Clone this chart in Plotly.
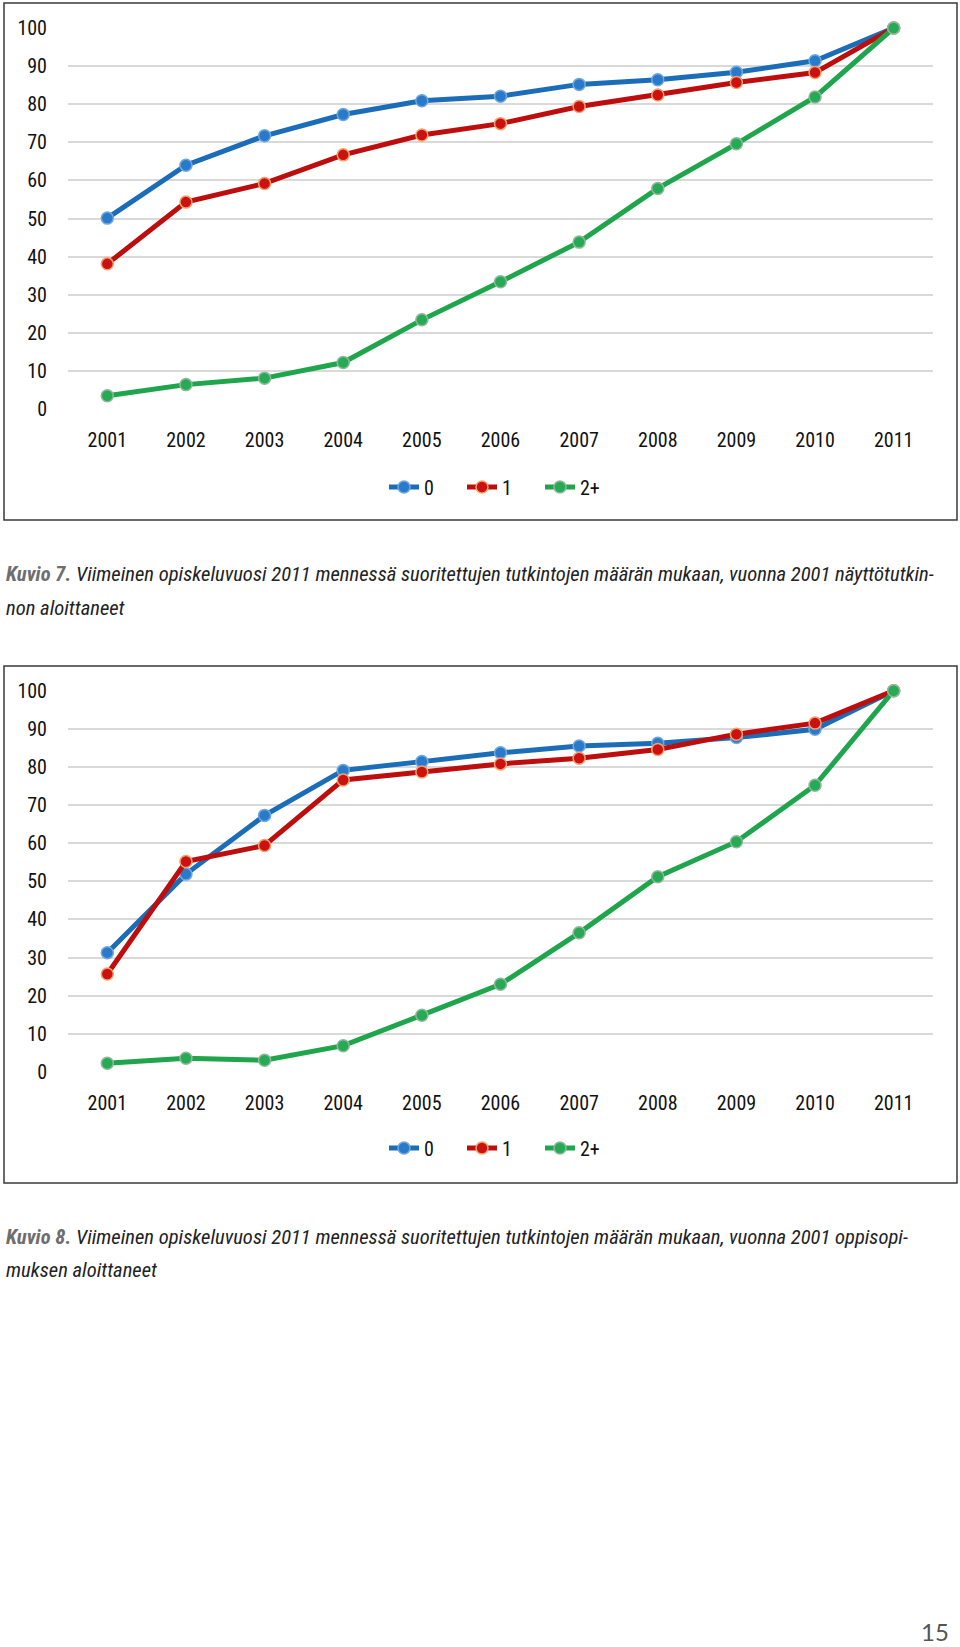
import plotly.graph_objects as go

years = ["2001", "2002", "2003", "2004", "2005", "2006", "2007", "2008", "2009", "2010", "2011"]
series_names = ["0", "1", "2+"]

# Kuvio 7 (näyttötutkinnon aloittaneet)
k7_zero = [50.1, 64.0, 71.7, 77.3, 80.9, 82.1, 85.2, 86.4, 88.4, 91.4, 100]
k7_one = [38.1, 54.3, 59.2, 66.7, 71.9, 74.9, 79.4, 82.4, 85.7, 88.3, 100]
k7_two = [3.5, 6.4, 8.1, 12.2, 23.4, 33.4, 43.8, 57.9, 69.6, 81.9, 100]

# Kuvio 8 (oppisopimuksen aloittaneet)
k8_zero = [31.3, 51.9, 67.3, 79.1, 81.4, 83.7, 85.5, 86.2, 87.7, 89.9, 100]
k8_one = [25.7, 55.2, 59.4, 76.6, 78.7, 80.8, 82.3, 84.6, 88.6, 91.5, 100]
k8_two = [2.3, 3.6, 3.1, 6.9, 14.9, 23.0, 36.5, 51.2, 60.4, 75.2, 100]

y_ticks = [0, 10, 20, 30, 40, 50, 60, 70, 80, 90, 100]

W, H = 960, 1647
FONT = "Liberation Sans Narrow, Roboto Condensed, Roboto, sans-serif"

line_colors = ["#1B6DB8", "#BE0D0D", "#1FA54C"]
marker_fill = ["#2A7ACB", "#CC1111", "#27AA55"]
marker_edge = ["#6FA8DC", "#F5A06A", "#8FB89A"]


def py(px):
    return 1 - px / H


def px_x(px):
    return px / W


fig = go.Figure()

charts = [
    dict(data=[k7_zero, k7_one, k7_two], xa="x", ya="y", legend="legend"),
    dict(data=[k8_zero, k8_one, k8_two], xa="x2", ya="y2", legend="legend2"),
]

for c in charts:
    for i, vals in enumerate(c["data"]):
        fig.add_trace(go.Scatter(
            x=years, y=vals, name=series_names[i], mode="lines+markers",
            xaxis=c["xa"], yaxis=c["ya"], legend=c["legend"],
            line=dict(color=line_colors[i], width=5),
            marker=dict(size=12, color=marker_fill[i],
                        line=dict(color=marker_edge[i], width=1.5)),
            cliponaxis=False,
        ))

TICK_SIZE = 20
axis_common_x = dict(
    type="category", range=[-0.5, 10.5], showgrid=False, showline=False,
    zeroline=False, ticks="", tickfont=dict(family=FONT, size=TICK_SIZE, color="#111"),
    ticklabelstandoff=17, fixedrange=True, automargin=False,
)
axis_common_y = dict(
    range=[0, 100], tickvals=y_ticks, showgrid=True, gridcolor="#D9D9D9",
    gridwidth=1.5, zeroline=False, showline=False, ticks="",
    tickfont=dict(family=FONT, size=TICK_SIZE, color="#111"), ticklabelstandoff=20,
    fixedrange=True, automargin=False,
)

x0, x1 = px_x(68), px_x(933)
fig.update_layout(
    xaxis=dict(domain=[x0, x1], anchor="y", **axis_common_x),
    yaxis=dict(domain=[py(409), py(28)], anchor="x", **axis_common_y),
    xaxis2=dict(domain=[x0, x1], anchor="y2", **axis_common_x),
    yaxis2=dict(domain=[py(1072), py(690.7)], anchor="x2", **axis_common_y),
)

legend_common = dict(
    orientation="h", xanchor="left", yanchor="middle",
    font=dict(family=FONT, size=TICK_SIZE, color="#111"),
    bgcolor="rgba(0,0,0,0)", entrywidth=33, entrywidthmode="pixels",
    itemclick=False, itemdoubleclick=False, tracegroupgap=0,
)
fig.update_layout(
    legend=dict(x=px_x(384), y=py(487), **legend_common),
    legend2=dict(x=px_x(384), y=py(1148), **legend_common),
)

# Chart frames
shapes = []
for (t, b) in [(3, 520), (666, 1183)]:
    shapes.append(dict(type="rect", xref="paper", yref="paper",
                       x0=px_x(4), x1=px_x(957), y0=py(b), y1=py(t),
                       line=dict(color="#3A3A3A", width=1.5),
                       fillcolor="rgba(0,0,0,0)", layer="below"))

annotations = []
captions = [
    ("Kuvio 7.", "Viimeinen opiskeluvuosi 2011 mennessä suoritettujen tutkintojen määrän mukaan, vuonna 2001 näyttötutkin-",
     "non aloittaneet", 574, 608),
    ("Kuvio 8.", "Viimeinen opiskeluvuosi 2011 mennessä suoritettujen tutkintojen määrän mukaan, vuonna 2001 oppisopi-",
     "muksen aloittaneet", 1237, 1270),
]
CAP_SIZE = 20.6
for lab, l1, l2, y1, y2 in captions:
    annotations.append(dict(
        xref="paper", yref="paper", x=px_x(4), y=py(y1), xanchor="left",
        yanchor="middle", showarrow=False,
        text=f"<b><i><span style='color:#6E6E6E'>{lab}</span></i></b> <i>{l1}</i>",
        font=dict(family=FONT, size=CAP_SIZE, color="#222")))
    annotations.append(dict(
        xref="paper", yref="paper", x=px_x(4), y=py(y2), xanchor="left",
        yanchor="middle", showarrow=False, text=f"<i>{l2}</i>",
        font=dict(family=FONT, size=CAP_SIZE, color="#222")))

annotations.append(dict(
    xref="paper", yref="paper", x=px_x(951), y=py(1631), xanchor="right",
    yanchor="middle", showarrow=False, text="15",
    font=dict(family="Lato, sans-serif", size=24, color="#555")))

fig.update_layout(
    width=W, height=H, margin=dict(l=0, r=0, t=0, b=0, autoexpand=False),
    paper_bgcolor="white", plot_bgcolor="white",
    shapes=shapes, annotations=annotations, showlegend=True,
    hovermode=False,
)

fig.write_html("out.html", config={"displayModeBar": False})
